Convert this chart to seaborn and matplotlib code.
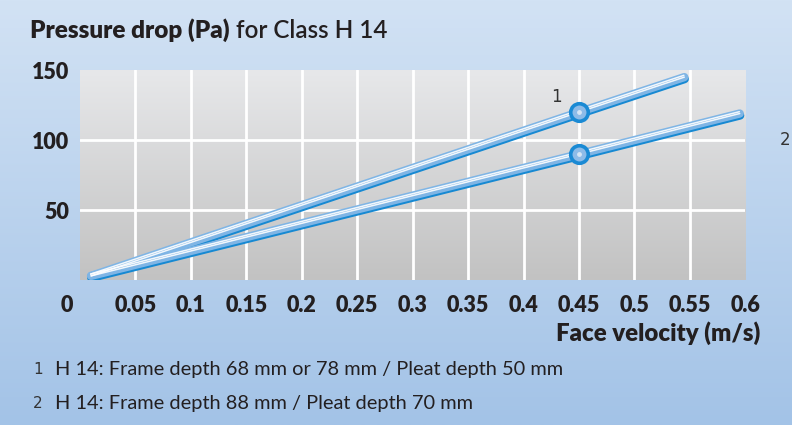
import numpy as np
import pandas as pd
import seaborn as sns
import matplotlib.pyplot as plt
import matplotlib.patheffects as pe
import matplotlib.transforms as mtrans
from matplotlib.colors import LinearSegmentedColormap

# data
velocity_1 = [0.01, 0.45, 0.545]
pressure_1 = [3, 120, 145]
velocity_2 = [0.01, 0.45, 0.595]
pressure_2 = [3, 90, 119]
marker_velocity = [0.45, 0.45]
marker_pressure = [120, 90]
x_ticks = [0, 0.05, 0.1, 0.15, 0.2, 0.25, 0.3, 0.35, 0.4, 0.45, 0.5, 0.55, 0.6]
x_labels = ["0", "0.05", "0.1", "0.15", "0.2", "0.25", "0.3", "0.35", "0.4", "0.45", "0.5", "0.55", "0.6"]
y_ticks = [50, 100, 150]
legend_items = ["H 14: Frame depth 68 mm or 78 mm / Pleat depth 50 mm",
                "H 14: Frame depth 88 mm / Pleat depth 70 mm"]

df = pd.DataFrame({
    "velocity": velocity_1 + velocity_2,
    "pressure": pressure_1 + pressure_2,
    "series": ["1"] * 3 + ["2"] * 3,
})

sns.set_style("white")
plt.rcParams['font.family'] = ['Lato', 'DejaVu Sans']
dark = "#231f20"

fig = plt.figure(figsize=(7.92, 4.25), dpi=100)

# blue gradient background for the whole figure
bg = fig.add_axes([0, 0, 1, 1], zorder=-10)
bg_cmap = LinearSegmentedColormap.from_list("bg", ["#d2e2f4", "#a3c3e7"])
bg.imshow(np.linspace(0, 1, 256).reshape(-1, 1), cmap=bg_cmap, aspect="auto", extent=[0, 1, 0, 1])
bg.axis("off")

ax = fig.add_axes([0.101, 0.341, 0.840, 0.494])
grey = LinearSegmentedColormap.from_list("grey", ["#e7e8ea", "#c2c2c2"])
ax.imshow(np.linspace(0, 1, 256).reshape(-1, 1), cmap=grey, aspect="auto",
          extent=[0, 0.6, 0, 150], zorder=0)

# white grid (no line on the top edge)
for xv in x_ticks[1:-1]:
    ax.axvline(xv, color="white", lw=2, zorder=1)
for yv in y_ticks[:-1]:
    ax.axhline(yv, color="white", lw=2, zorder=1)

sns.lineplot(data=df, x="velocity", y="pressure", hue="series", palette=["#7fb5e5", "#7fb5e5"],
             linewidth=6, legend=False, ax=ax, zorder=3, solid_capstyle="round",
             path_effects=[pe.Stroke(linewidth=6, foreground="#1789d2", offset=(0.3, -1.4)), pe.Normal()])
for vx, py in [(velocity_1, pressure_1), (velocity_2, pressure_2)]:
    ax.plot(vx, py, color="white", lw=1.1, zorder=4, alpha=0.9,
            path_effects=[pe.Stroke(offset=(-0.3, 1.3)), pe.Normal()])

ax.scatter(marker_velocity, marker_pressure, s=160, color="#8dbbe8", edgecolor="#1a8ad4",
           linewidth=2.6, zorder=5)
ax.scatter(marker_velocity, marker_pressure, s=6, color="#d6e6f6", zorder=6)

ax.text(0.43, 131, "1", fontsize=12, color="#333333", family="DejaVu Sans", ha="center", va="center")
ax.text(0.636, 100, "2", fontsize=12, color="#333333", family="DejaVu Sans", ha="center", va="center",
        clip_on=False)

ax.set_xlim(0, 0.6)
ax.set_ylim(0, 150)
ax.set_xticks(x_ticks)
ax.set_xticklabels(x_labels, fontsize=15.5, fontweight="heavy", color=dark)
ax.set_yticks(y_ticks)
ax.set_yticklabels([str(v) for v in y_ticks], fontsize=15.5, fontweight="heavy", color=dark)
ax.tick_params(length=0)
ax.tick_params(axis="x", pad=11)
ax.tick_params(axis="y", pad=8)
ax.grid(False)
for s in ax.spines.values():
    s.set_visible(False)
ax.set_xlabel("")
ax.set_ylabel("")
# the "0" sits a little left of the corner
lbl0 = ax.get_xticklabels()[0]
lbl0.set_transform(lbl0.get_transform() + mtrans.ScaledTranslation(-13 / 100, 0, fig.dpi_scale_trans))

fig.text(760 / 792, 1 - 333 / 425, "Face velocity (m/s)", fontsize=17.3, fontweight="heavy",
         color=dark, ha="right", va="center")

t1 = fig.text(30 / 792, 1 - 30 / 425, "Pressure drop (Pa)", fontsize=17.5, fontweight="heavy",
              color=dark, va="center")
fig.canvas.draw()
bb = t1.get_window_extent()
fig.text((bb.x1 + 6) / 792, 1 - 30 / 425, "for Class H 14", fontsize=17.5, fontweight="semibold",
         color=dark, va="center")

for i, (yy, item) in enumerate(zip([370, 404], legend_items)):
    fig.text(38 / 792, 1 - yy / 425, str(i + 1), fontsize=11, color="#333333",
             family="DejaVu Sans", va="center", ha="center")
    fig.text(55 / 792, 1 - yy / 425, item, fontsize=14.4, color=dark, va="center")

fig.savefig("out.png", dpi=100)
